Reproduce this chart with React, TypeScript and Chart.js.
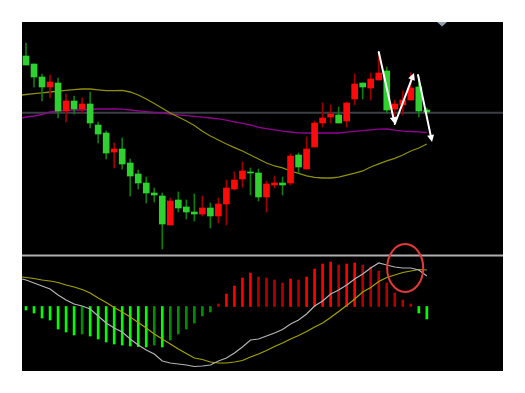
import React, { useEffect, useRef } from 'react';
import { Chart, registerables } from 'chart.js';

Chart.register(...registerables);

// ---- Candles (price units) ----
const openP = [24.4, 23.6, 22.3, 21.3, 21.7, 18.9, 19.9, 19.1, 19.6, 17.5, 16.7, 14.8, 15.1, 13.7, 12.6, 11.7, 10.7, 10.4, 7.5, 10.0, 9.3, 8.8, 8.6, 9.2, 8.4, 9.6, 11.1, 12.1, 12.8, 12.7, 10.3, 11.5, 11.7, 11.7, 14.5, 13.1, 15.3, 17.7, 18.3, 18.5, 17.9, 20.1, 21.7, 21.2, 22.0, 22.9, 19.1, 19.5, 20.0, 21.3, 19.0];
const highP = [25.7, 23.6, 22.6, 22.5, 22.2, 20.6, 20.4, 20.2, 20.8, 17.8, 16.9, 15.7, 16.2, 14.1, 13.0, 12.3, 11.2, 10.7, 10.2, 10.8, 10.0, 10.6, 10.4, 9.7, 10.2, 12.0, 12.8, 13.8, 13.2, 13.1, 11.9, 12.4, 12.3, 14.6, 14.7, 16.3, 17.9, 19.7, 19.5, 19.3, 19.8, 22.6, 21.7, 22.7, 24.7, 23.3, 20.0, 20.9, 22.7, 22.3, 19.2];
const lowP = [23.5, 21.3, 19.9, 20.2, 18.2, 17.8, 18.6, 18.7, 17.2, 15.7, 14.1, 13.2, 13.1, 10.4, 11.1, 9.7, 9.8, 5.1, 7.5, 8.8, 8.1, 7.9, 8.4, 7.2, 7.7, 7.5, 11.0, 11.3, 10.5, 9.9, 8.8, 11.2, 10.5, 11.5, 12.7, 13.1, 15.3, 17.3, 17.7, 17.7, 17.3, 19.5, 20.1, 20.0, 22.0, 18.7, 18.4, 18.5, 20.0, 18.3, 18.6];
const closeP = [23.5, 22.3, 21.3, 21.8, 18.9, 19.9, 19.1, 19.6, 17.7, 16.6, 14.7, 15.1, 13.6, 12.4, 11.7, 10.7, 10.5, 7.6, 9.9, 9.2, 8.8, 8.6, 9.2, 8.4, 9.6, 11.2, 12.0, 12.9, 12.7, 10.3, 11.6, 11.7, 11.5, 14.4, 13.3, 15.1, 17.7, 18.2, 18.6, 17.7, 19.7, 21.6, 21.3, 22.1, 22.7, 19.0, 19.6, 20.0, 21.2, 18.9, 18.8];

// ---- Moving averages (first value is at the left edge, then one per candle) ----
const maFast = [20.5, 20.55, 20.63, 20.72, 20.8, 20.88, 20.96, 21.04, 21.1, 21.1, 21.02, 20.94, 20.94, 20.96, 20.8, 20.5, 20.1, 19.65, 19.18, 18.7, 18.3, 17.9, 17.45, 16.88, 16.4, 16.0, 15.6, 15.24, 14.9, 14.5, 14.1, 13.7, 13.4, 13.22, 12.9, 12.66, 12.42, 12.26, 12.2, 12.2, 12.28, 12.48, 12.68, 12.9, 13.3, 13.62, 13.92, 14.16, 14.5, 14.9, 15.2, 15.6];
const maSlow = [18.2, 18.3, 18.4, 18.55, 18.8, 18.88, 18.96, 19.0, 19.0, 19.05, 19.1, 19.1, 19.1, 19.08, 19.0, 18.92, 18.84, 18.76, 18.68, 18.6, 18.52, 18.44, 18.36, 18.28, 18.2, 18.12, 17.98, 17.82, 17.66, 17.5, 17.26, 17.14, 17.02, 16.88, 16.8, 16.72, 16.7, 16.7, 16.7, 16.7, 16.7, 16.78, 16.86, 16.94, 17.02, 17.08, 17.1, 16.98, 16.88, 16.85, 16.82, 16.75];

// ---- MACD ----
const macdHist = [-0.07, -0.13, -0.23, -0.27, -0.45, -0.51, -0.57, -0.55, -0.59, -0.65, -0.71, -0.75, -0.77, -0.79, -0.80, -0.81, -0.77, -0.81, -0.67, -0.55, -0.45, -0.33, -0.19, -0.11, 0.05, 0.25, 0.41, 0.57, 0.67, 0.59, 0.57, 0.53, 0.47, 0.55, 0.53, 0.59, 0.75, 0.85, 0.89, 0.83, 0.85, 0.87, 0.83, 0.79, 0.71, 0.47, 0.27, 0.13, 0.05, -0.13, -0.25];
const macdDif = [0.55, 0.53, 0.47, 0.41, 0.35, 0.23, 0.13, 0.05, 0.01, -0.05, -0.19, -0.33, -0.43, -0.51, -0.65, -0.77, -0.87, -0.95, -1.09, -1.13, -1.15, -1.17, -1.2, -1.19, -1.17, -1.09, -1.03, -0.93, -0.81, -0.67, -0.65, -0.59, -0.53, -0.46, -0.35, -0.27, -0.15, 0.01, 0.11, 0.25, 0.33, 0.43, 0.55, 0.65, 0.77, 0.87, 0.83, 0.79, 0.77, 0.77, 0.73, 0.61];
const macdDea = [0.59, 0.58, 0.56, 0.53, 0.51, 0.48, 0.43, 0.39, 0.34, 0.27, 0.17, 0.08, -0.02, -0.11, -0.21, -0.32, -0.43, -0.55, -0.65, -0.75, -0.85, -0.94, -1.03, -1.06, -1.11, -1.13, -1.13, -1.11, -1.08, -1.01, -0.95, -0.88, -0.8, -0.73, -0.65, -0.58, -0.5, -0.41, -0.33, -0.22, -0.1, 0.02, 0.15, 0.29, 0.38, 0.5, 0.58, 0.63, 0.68, 0.71, 0.74, 0.73];

// ---- Reference levels ----
const priceLevel = [18.73];
const panelDivider = [4.45];

// ---- Annotations (data units) ----
const arrowFromX = [44, 46, 48.9];
const arrowFromY = [24.8, 17.6, 22.5];
const arrowToX = [46, 48.4, 50.65];
const arrowToY = [17.6, 22.7, 15.8];
const ringCenter = [47.3, 0.77];
const ringRadius = [2.25, 0.48];
const markerX = [51.9];

const SLOTS = 60;

const overlay = {
  id: 'overlay',
  afterDatasetsDraw(chart: any) {
    const { ctx, scales, chartArea } = chart;
    const xs = scales.x;
    const yp = scales.y;
    const ym = scales.ym;
    ctx.save();
    // arrows
    ctx.strokeStyle = '#ffffff';
    ctx.fillStyle = '#ffffff';
    ctx.lineWidth = 2;
    ctx.lineCap = 'round';
    for (let k = 0; k < arrowFromX.length; k++) {
      const x1 = xs.getPixelForValue(arrowFromX[k]);
      const y1 = yp.getPixelForValue(arrowFromY[k]);
      const x2 = xs.getPixelForValue(arrowToX[k]);
      const y2 = yp.getPixelForValue(arrowToY[k]);
      const ang = Math.atan2(y2 - y1, x2 - x1);
      const hl = 7;
      const hw = 3.5;
      const bx = x2 - hl * Math.cos(ang);
      const by = y2 - hl * Math.sin(ang);
      ctx.beginPath();
      ctx.moveTo(x1, y1);
      ctx.lineTo(bx, by);
      ctx.stroke();
      ctx.beginPath();
      ctx.moveTo(x2, y2);
      ctx.lineTo(bx + hw * Math.sin(ang), by - hw * Math.cos(ang));
      ctx.lineTo(bx - hw * Math.sin(ang), by + hw * Math.cos(ang));
      ctx.closePath();
      ctx.fill();
    }
    // ring
    const cx = xs.getPixelForValue(ringCenter[0]);
    const cy = ym.getPixelForValue(ringCenter[1]);
    const rx = Math.abs(xs.getPixelForValue(ringCenter[0] + ringRadius[0]) - cx);
    const ry = Math.abs(ym.getPixelForValue(ringCenter[1] + ringRadius[1]) - cy);
    ctx.strokeStyle = '#e23a3a';
    ctx.lineWidth = 2;
    ctx.beginPath();
    ctx.ellipse(cx, cy, rx, ry, 0, 0, Math.PI * 2);
    ctx.stroke();
    // top marker
    const mx = xs.getPixelForValue(markerX[0]);
    const top = chartArea.top;
    ctx.fillStyle = '#8ea0b4';
    ctx.beginPath();
    ctx.moveTo(mx - 5, top);
    ctx.lineTo(mx + 5, top);
    ctx.lineTo(mx, top + 4.5);
    ctx.closePath();
    ctx.fill();
    ctx.restore();
  },
};

export default function App() {
  const ref = useRef<HTMLCanvasElement>(null);

  useEffect(() => {
    const canvas = ref.current;
    if (!canvas) return;
    const idx = openP.map((_, i) => i);
    const lx = [-0.5, ...idx];
    const up = idx.map((i) => closeP[i] > openP[i]);
    const bodyColor = up.map((u) => (u ? '#ff0a0a' : '#30d030'));
    const wickColor = up.map((u) => (u ? '#a00000' : '#107c10'));
    const histColor = macdHist.map((v, i) => {
      const prev = i > 0 ? Math.abs(macdHist[i - 1]) : 0;
      const grow = Math.abs(v) > prev;
      if (v >= 0) return grow ? '#ff0000' : '#b00000';
      return grow ? '#00ff00' : '#008c00';
    });
    const edgeLine = (level: number) => [
      { x: -0.5, y: level },
      { x: SLOTS - 0.5, y: level },
    ];

    const chart = new Chart(canvas, {
      type: 'bar',
      data: {
        datasets: [
          {
            type: 'bar',
            label: 'body',
            data: idx.map((i) => ({ x: i, y: [openP[i], closeP[i]] })) as any,
            backgroundColor: bodyColor,
            borderWidth: 0,
            barThickness: 6,
            grouped: false,
            yAxisID: 'y',
            order: 2,
          },
          {
            type: 'bar',
            label: 'wick',
            data: idx.map((i) => ({ x: i, y: [lowP[i], highP[i]] })) as any,
            backgroundColor: wickColor,
            borderWidth: 0,
            barThickness: 1,
            grouped: false,
            yAxisID: 'y',
            order: 3,
          },
          {
            type: 'line',
            label: 'MA fast',
            data: lx.map((x, k) => ({ x, y: maFast[k] })),
            borderColor: '#8f8f0c',
            borderWidth: 1.3,
            pointRadius: 0,
            yAxisID: 'y',
            order: 4,
          },
          {
            type: 'line',
            label: 'MA slow',
            data: lx.map((x, k) => ({ x, y: maSlow[k] })),
            borderColor: '#940094',
            borderWidth: 1.3,
            pointRadius: 0,
            yAxisID: 'y',
            order: 4,
          },
          {
            type: 'line',
            label: 'level',
            data: edgeLine(priceLevel[0]),
            borderColor: '#3b3f45',
            borderWidth: 2,
            pointRadius: 0,
            yAxisID: 'y',
            order: 5,
          },
          {
            type: 'line',
            label: 'divider',
            data: edgeLine(panelDivider[0]),
            borderColor: '#b0b0b0',
            borderWidth: 2,
            pointRadius: 0,
            yAxisID: 'y',
            order: 0,
          },
          {
            type: 'bar',
            label: 'MACD',
            data: idx.map((i) => ({ x: i, y: macdHist[i] })) as any,
            backgroundColor: histColor,
            borderWidth: 0,
            barThickness: 2,
            grouped: false,
            yAxisID: 'ym',
            order: 3,
          },
          {
            type: 'line',
            label: 'DIF',
            data: lx.map((x, k) => ({ x, y: macdDif[k] })),
            borderColor: '#b4b4b4',
            borderWidth: 1.2,
            pointRadius: 0,
            yAxisID: 'ym',
            order: 1,
          },
          {
            type: 'line',
            label: 'DEA',
            data: lx.map((x, k) => ({ x, y: macdDea[k] })),
            borderColor: '#a3a300',
            borderWidth: 1.2,
            pointRadius: 0,
            yAxisID: 'ym',
            order: 1,
          },
        ],
      },
      options: {
        responsive: false,
        animation: false,
        devicePixelRatio: 1,
        events: [],
        layout: { padding: 0 },
        plugins: { legend: { display: false }, tooltip: { enabled: false } },
        scales: {
          x: { type: 'linear', min: -0.5, max: SLOTS - 0.5, offset: false, display: false },
          y: { type: 'linear', min: -7.1, max: 27.8, display: false },
          ym: { type: 'linear', min: -1.29, max: 5.69, display: false, position: 'right' },
        },
      } as any,
      plugins: [overlay],
    });
    return () => chart.destroy();
  }, []);

  return (
    <div style={{ position: 'absolute', left: 22, top: 22, width: 481, height: 349, background: '#000' }}>
      <canvas ref={ref} width={481} height={349} style={{ display: 'block' }} />
    </div>
  );
}
